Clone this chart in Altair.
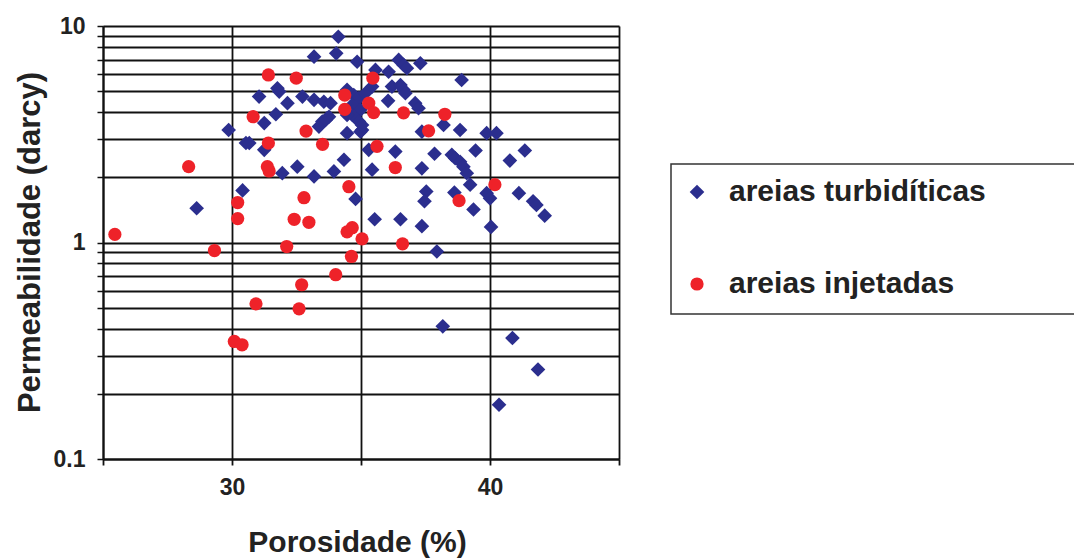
import altair as alt
import pandas as pd

# areias turbidíticas (porosity %, permeability darcy)
turb_x = [34.12, 34.04, 33.18, 34.85, 36.46, 36.65, 36.78, 37.30, 36.07, 35.56,
          38.90, 36.20, 36.53, 36.65, 36.72, 36.05, 37.10, 37.23, 34.72, 34.92,
          35.17, 34.66, 34.98, 34.66, 34.92, 35.04, 34.46, 32.73, 33.18, 33.56,
          33.82, 33.50, 33.69, 33.37, 35.43, 38.20, 38.84, 37.36, 39.87, 40.25,
          34.34, 33.95, 35.30, 36.33, 35.43, 37.36, 37.85, 38.52, 38.65, 38.84,
          38.97, 39.10, 39.23, 39.44, 40.77, 41.35, 39.87, 40.00, 41.12, 41.67,
          41.80, 42.12, 37.53, 37.46, 38.62, 39.36, 35.53, 36.53, 37.36, 40.04,
          34.79, 37.94, 38.17, 40.87, 41.86, 40.35, 28.63, 29.87, 30.54, 30.67,
          30.41, 31.05, 31.76, 31.83, 32.15, 31.70, 31.25, 31.25, 31.95, 32.53,
          33.18, 34.46, 34.46, 33.63, 33.76, 34.98, 35.04]
turb_y = [8.92, 7.48, 7.22, 6.84, 6.97, 6.61, 6.38, 6.73, 6.15, 6.27,
          5.63, 5.25, 5.34, 5.07, 4.89, 4.51, 4.40, 4.17, 4.80, 4.64,
          4.89, 4.32, 4.10, 3.88, 3.62, 3.31, 3.20, 4.72, 4.56, 4.47,
          4.40, 3.62, 3.76, 3.43, 5.25, 3.49, 3.31, 3.25, 3.20, 3.20,
          2.41, 2.13, 2.68, 2.63, 2.17, 2.20, 2.57, 2.54, 2.45, 2.36,
          2.24, 2.09, 1.85, 2.66, 2.39, 2.66, 1.69, 1.60, 1.69, 1.55,
          1.49, 1.33, 1.72, 1.55, 1.70, 1.42, 1.28, 1.28, 1.19, 1.18,
          1.59, 0.909, 0.41, 0.362, 0.259, 0.178, 1.44, 3.31, 2.88, 2.88,
          1.74, 4.72, 5.16, 4.98, 4.40, 3.91, 3.56, 2.68, 2.09, 2.24,
          2.02, 3.88, 5.07, 3.68, 3.81, 3.25, 3.49]

# areias injetadas
inj_x = [25.46, 28.32, 29.32, 30.22, 30.22, 30.09, 30.39, 30.93, 32.12, 32.60,
         32.70, 34.02, 34.46, 34.63, 34.66, 35.04, 36.61, 31.41, 32.49, 30.82,
         31.41, 31.37, 31.44, 32.87, 33.51, 34.53, 32.79, 32.41, 32.98, 34.37,
         34.37, 35.46, 35.30, 35.49, 36.65, 38.25, 37.62, 35.62, 36.33, 38.80,
         40.19]
inj_y = [1.09, 2.24, 0.918, 1.53, 1.29, 0.349, 0.337, 0.521, 0.958, 0.494,
         0.638, 0.710, 1.12, 0.862, 1.17, 1.04, 0.986, 5.94, 5.74, 3.81,
         2.88, 2.24, 2.14, 3.27, 2.84, 1.81, 1.61, 1.28, 1.24, 4.80,
         4.12, 5.74, 4.40, 3.98, 3.97, 3.91, 3.28, 2.78, 2.22, 1.56,
         1.85]

series = ["areias turbidíticas", "areias injetadas"]
colors = ["#2B2E8E", "#EE2229"]
shapes = ["diamond", "circle"]
sizes = [215, 175]

x_ticks = [25, 30, 35, 40, 45]
y_ticks = [0.1, 0.2, 0.3, 0.4, 0.5, 0.6, 0.7, 0.8, 0.9,
           1, 2, 3, 4, 5, 6, 7, 8, 9, 10]

df = pd.concat([
    pd.DataFrame({"x": turb_x, "y": turb_y, "s": series[0], "o": 0}),
    pd.DataFrame({"x": inj_x, "y": inj_y, "s": series[1], "o": 1}),
], ignore_index=True)

FONT = "Liberation Sans"

points = alt.Chart(df).mark_point(filled=True, opacity=1).encode(
    x=alt.X("x:Q",
            scale=alt.Scale(domain=[25, 45], nice=False, zero=False),
            axis=alt.Axis(values=x_ticks, grid=True, gridColor="#111", gridWidth=1.8,
                          labelExpr="(datum.value == 30 || datum.value == 40) ? datum.label : ''",
                          labelFontSize=23, labelFont=FONT, labelFontWeight="bold",
                          labelColor="#222", labelPadding=11,
                          tickSize=6, tickColor="#111", tickWidth=1.8,
                          domainColor="#111", domainWidth=2,
                          title="Porosidade (%)", titleFont=FONT, titleFontSize=30,
                          titleFontWeight="bold", titleColor="#222",
                          titleX=254, titleY=92, titleBaseline="alphabetic")),
    y=alt.Y("y:Q",
            scale=alt.Scale(type="log", domain=[0.1, 10], nice=False),
            axis=alt.Axis(values=y_ticks, grid=True, gridColor="#111", gridWidth=1.8,
                          format="~g",
                          labelExpr="(datum.value == 0.1 || datum.value == 1 || datum.value == 10) ? datum.label : ''",
                          labelFontSize=23, labelFont=FONT, labelFontWeight="bold",
                          labelColor="#222", labelPadding=12,
                          tickSize=6, tickColor="#111", tickWidth=1.5,
                          domainColor="#111", domainWidth=2,
                          title="Permeabilidade (darcy)", titleFont=FONT, titleFontSize=31,
                          titleFontWeight="bold", titleColor="#222",
                          titleAngle=270, titleX=-73, titleY=216,
                          titleBaseline="middle", titleAlign="center")),
    color=alt.Color("s:N", scale=alt.Scale(domain=series, range=colors),
                    legend=alt.Legend(title=None, orient="none", legendX=566, legendY=138,
                                      labelFont=FONT, labelFontSize=30, labelFontWeight="bold",
                                      labelColor="#222", labelOffset=17, labelLimit=900,
                                      symbolSize=60, rowPadding=62, padding=13,
                                      symbolStrokeWidth=0)),
    shape=alt.Shape("s:N", scale=alt.Scale(domain=series, range=shapes), legend=None),
    size=alt.Size("s:N", scale=alt.Scale(domain=series, range=sizes), legend=None),
    order=alt.Order("o:Q"),
)

# legend frame (extends past the right edge, as in the original figure)
legend_box = alt.Chart(pd.DataFrame({"k": [0]})).mark_rect(
    fill="white", stroke="#333", strokeWidth=1.5
).encode(
    x=alt.value(568), x2=alt.value(990), y=alt.value(138), y2=alt.value(288)
)

chart = alt.layer(legend_box, points).properties(
    width=516, height=433,
    autosize=alt.AutoSizeParams(type="none"),
    padding={"left": 103, "top": 26, "right": 455, "bottom": 99},
).configure_view(stroke="#111", strokeWidth=2).configure(background="white")

chart.save("out.html", embed_options={"renderer": "svg", "actions": False})
